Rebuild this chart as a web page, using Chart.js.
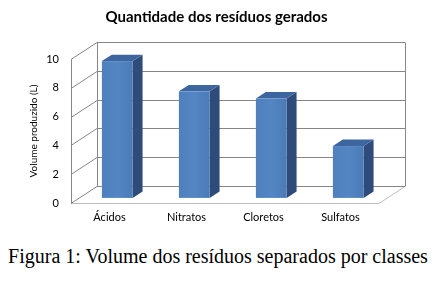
<!DOCTYPE html>
<html>
<head>
<meta charset="utf-8">
<script src="https://cdn.jsdelivr.net/npm/chart.js@4.4.0/dist/chart.umd.min.js"></script>
<style>
  body { margin: 0; background: #fff; }
  #wrap { position: absolute; left: 0; top: 0; width: 436px; height: 240px; }
  #caption { position: absolute; left: 0; top: 245px; width: 436px; text-align: center;
             font-family: "Liberation Serif", serif; font-size: 20px; color: #000; white-space: nowrap; }
</style>
</head>
<body>
<div id="wrap"><canvas id="myChart"></canvas></div>
<div id="caption">Figura 1: Volume dos resíduos separados por classes</div>
<script>
// data
var categories = ['Ácidos', 'Nitratos', 'Cloretos', 'Sulfatos'];
var volumes = [9.5, 7.4, 6.9, 3.6];
var yTicks = [0, 2, 4, 6, 8, 10];

var DX = 26, DY = -17;      // depth of the 3d box
var F0 = 0.3, F1 = 0.68;    // front / back of the bars inside that depth

var threeD = {
    id: 'threeD',
    beforeDatasetsDraw: function(chart) { // walls, floor and gridlines
        var c = chart.ctx, a = chart.chartArea, y = chart.scales.y;
        c.save();
        c.lineWidth = 1;
        // floor
        c.strokeStyle = '#bdbdbd';
        c.beginPath();
        c.moveTo(a.left, a.bottom + 0.5);
        c.lineTo(a.right, a.bottom + 0.5);
        c.lineTo(a.right + DX, a.bottom + DY + 0.5);
        c.stroke();
        // back wall + side wall gridlines
        c.strokeStyle = '#868686';
        yTicks.forEach(function(v) {
            var py = Math.round(y.getPixelForValue(v)) + 0.5;
            c.beginPath();
            c.moveTo(a.left, py);
            c.lineTo(a.left + DX, py + DY);
            c.lineTo(a.right + DX, py + DY);
            c.stroke();
        });
        var top = Math.round(y.getPixelForValue(10)) + 0.5, bot = Math.round(y.getPixelForValue(0)) + 0.5;
        c.beginPath();
        c.moveTo(a.left + DX + 0.5, top + DY);
        c.lineTo(a.left + DX + 0.5, bot + DY);
        c.moveTo(a.right + DX + 0.5, top + DY);
        c.lineTo(a.right + DX + 0.5, bot + DY);
        c.moveTo(a.left + 0.5, top);
        c.lineTo(a.left + 0.5, bot);
        c.stroke();
        c.restore();
    },
    afterDatasetsDraw: function(chart) { // the 3d columns
        var c = chart.ctx;
        chart.getDatasetMeta(0).data.forEach(function(bar) {
            var w = bar.width, x0 = bar.x - w / 2 + F0 * DX, x1 = x0 + w;
            var yt = bar.y + F0 * DY, yb = bar.base + F0 * DY;
            var ddx = (F1 - F0) * DX, ddy = (F1 - F0) * DY;
            // side
            c.fillStyle = '#2f4b7a';
            c.beginPath();
            c.moveTo(x1, yt); c.lineTo(x1 + ddx, yt + ddy);
            c.lineTo(x1 + ddx, yb + ddy); c.lineTo(x1, yb);
            c.closePath(); c.fill();
            // top
            c.fillStyle = '#3d66a0';
            c.beginPath();
            c.moveTo(x0, yt); c.lineTo(x0 + ddx, yt + ddy);
            c.lineTo(x1 + ddx, yt + ddy); c.lineTo(x1, yt);
            c.closePath(); c.fill();
            // front
            var g = c.createLinearGradient(x0, 0, x1, 0);
            g.addColorStop(0, '#4f80bd');
            g.addColorStop(0.5, '#5386c3');
            g.addColorStop(1, '#4b7bb7');
            c.fillStyle = g;
            c.fillRect(x0, yt, w, yb - yt);
        });
    }
};

var ctx = document.getElementById('myChart').getContext('2d');
var chart = new Chart(ctx, {
    type: 'bar',
    data: {
        labels: categories,
        datasets: [{
            data: volumes,
            backgroundColor: 'rgba(0,0,0,0)',
            barPercentage: 0.8,
            categoryPercentage: 0.5
        }]
    },
    options: {
        responsive: true,
        maintainAspectRatio: false,
        animation: false,
        layout: { padding: { left: 26, right: 29, top: 0, bottom: 0 } },
        plugins: {
            legend: { display: false },
            tooltip: { enabled: false },
            title: {
                display: true,
                text: 'Quantidade dos resíduos gerados',
                color: '#000',
                font: { family: 'Lato', size: 15, weight: 'bold' },
                padding: { top: 8, bottom: 33 }
            }
        },
        scales: {
            x: {
                grid: { display: false, drawTicks: false },
                border: { display: false },
                ticks: { color: '#000', padding: 8, font: { family: 'Lato', size: 11 } },
                afterFit: function(s) { s.height = 37; }
            },
            y: {
                min: 0, max: 10,
                grid: { display: false, drawTicks: false },
                border: { display: false },
                ticks: { stepSize: 2, color: '#000', padding: 12, font: { family: 'Lato', size: 11 } },
                title: {
                    display: true, text: 'Volume produzido (L)', color: '#000',
                    font: { family: 'Lato', size: 10 }, padding: { top: 2, bottom: 0 }
                },
                afterFit: function(s) { s.width = 45; }
            },
            // empty right axis, only keeps room for the depth of the box
            y2: {
                position: 'right', min: 0, max: 10,
                grid: { display: false, drawTicks: false },
                border: { display: false },
                ticks: { display: false },
                afterFit: function(s) { s.width = 28; }
            }
        }
    },
    plugins: [threeD]
});
</script>
</body>
</html>
